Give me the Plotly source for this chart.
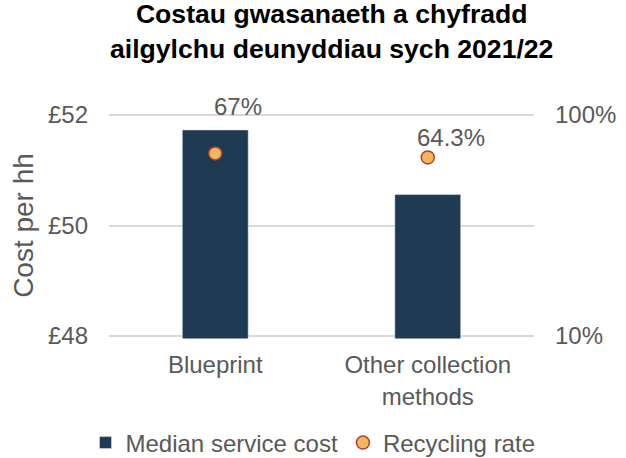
import plotly.graph_objects as go
import math

categories = ["Blueprint", "Other collection<br>methods"]
median_cost = [51.73, 50.56]
recycling_rate = [0.67, 0.643]
rate_labels = ["67%", "64.3%"]

FONT = "Liberation Sans, Arial, sans-serif"
GREY = "#595959"
FS = 24
W, H = 626, 458

# plot area in pixels (where £52 / £48 gridlines sit)
x0, x1 = 109, 534
y_top, y_bot = 115, 336
pad = 0.045  # small range padding so edge gridlines draw
ppu = (y_bot - y_top) / 4.0
ytop_px = y_top - pad * ppu
ybot_px = y_bot + pad * ppu

fig = go.Figure()
fig.add_trace(go.Bar(
    x=categories, y=median_cost, name="Median service cost",
    marker=dict(color="#203A53"), width=0.31, yaxis="y",
))
fig.add_trace(go.Scatter(
    x=categories, y=recycling_rate, name="Recycling rate", mode="markers",
    marker=dict(color="#F2B661", size=13, line=dict(color="#A9442A", width=1.5)),
    yaxis="y2",
))

shifts = [47, 20]
for c, r, lab, s in zip(categories, recycling_rate, rate_labels, shifts):
    fig.add_annotation(x=c, y=math.log10(r), xref="x", yref="y2", text=lab,
                       showarrow=False, yshift=s, xshift=23,
                       font=dict(family=FONT, size=FS, color=GREY))

fig.add_annotation(
    text="<b>Costau gwasanaeth a chyfradd<br>ailgylchu deunyddiau sych 2021/22</b>",
    x=331 / W, y=1 - 32 / H, xref="paper", yref="paper", xanchor="center", yanchor="middle",
    showarrow=False, font=dict(family=FONT, size=26.6, color="black"))

fig.update_layout(
    width=W, height=H,
    margin=dict(l=0, r=0, t=0, b=0, autoexpand=False),
    paper_bgcolor="white", plot_bgcolor="white",
    font=dict(family=FONT, size=FS, color=GREY),
    showlegend=True,
    legend=dict(orientation="h", x=0.5, xanchor="center",
                y=1 - 443 / H, yanchor="middle",
                font=dict(family=FONT, size=FS, color=GREY),
                traceorder="normal", itemwidth=30),
    xaxis=dict(domain=[x0 / W, x1 / W], showline=False, ticks="",
               tickfont=dict(size=FS, color=GREY), ticklabelstandoff=10),
    yaxis=dict(domain=[1 - ybot_px / H, 1 - ytop_px / H],
               range=[48 - pad, 52 + pad], tickvals=[48, 50, 52],
               ticktext=["£48", "£50", "£52"],
               showgrid=True, gridcolor="#D9D9D9", gridwidth=1.5, zeroline=False,
               ticks="", ticklabelstandoff=20,
               title=dict(text="Cost per hh", font=dict(size=28, color=GREY), standoff=6),
               tickfont=dict(size=FS, color=GREY)),
    yaxis2=dict(type="log", range=[-1 - pad / 4, pad / 4], overlaying="y", side="right",
                tickvals=[0.1, 1], ticktext=["10%", "100%"], showgrid=False,
                ticks="", ticklabelstandoff=20,
                tickfont=dict(size=FS, color=GREY), zeroline=False),
)
fig.write_html("out.html", config={"displayModeBar": False},
               post_script="document.body.style.margin='0px';")
